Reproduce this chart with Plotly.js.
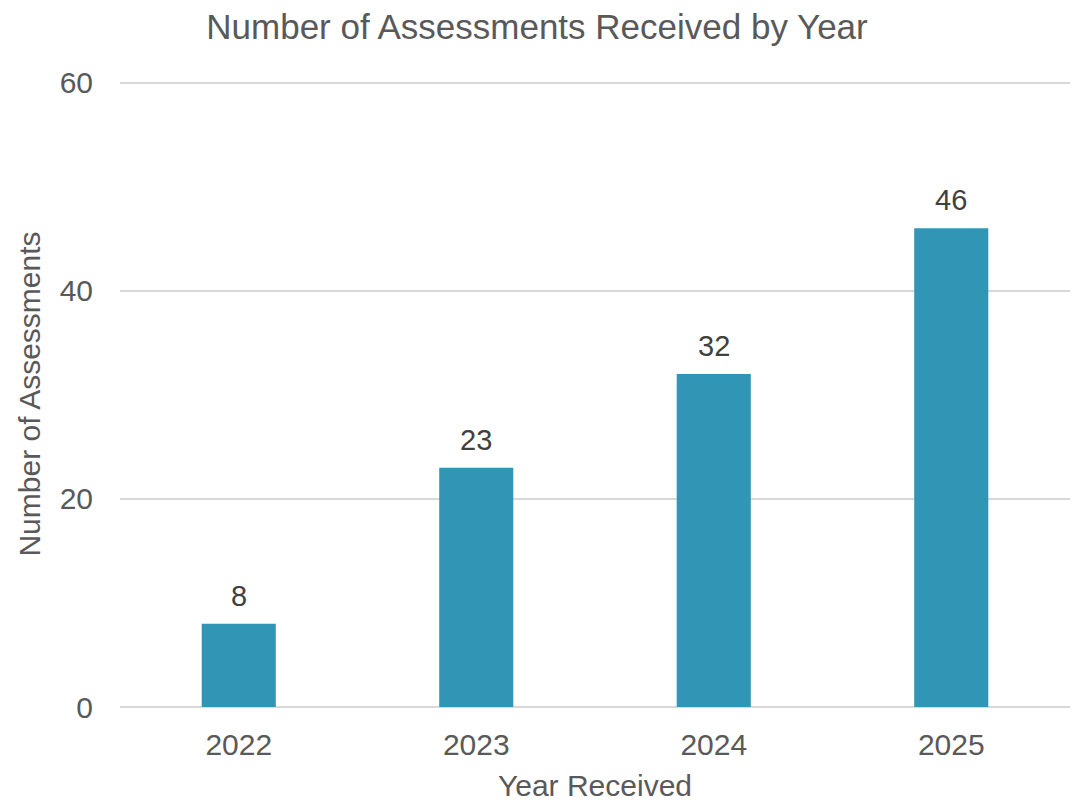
<!DOCTYPE html>
<html><head><meta charset="utf-8">
<script src="https://cdn.plot.ly/plotly-3.0.1.min.js"></script>
<style>html,body{margin:0;padding:0;background:#fff}</style>
</head><body>
<div id="chart" style="width:1074px;height:805px"></div>
<script>
const years = ["2022", "2023", "2024", "2025"];
const counts = [8, 23, 32, 46];
const yTicks = [0, 20, 40, 60];

const txt = '#595959';
const fam = 'Liberation Sans, Arial, sans-serif';
Plotly.newPlot('chart', [{
  type: 'bar', x: years, y: counts,
  marker: {color: '#3196B5'},
  hoverinfo: 'none'
}], {
  width: 1074, height: 805,
  margin: {l: 120, r: 4, t: 81, b: 98},
  paper_bgcolor: '#fff', plot_bgcolor: '#fff',
  bargap: 0.688,
  showlegend: false,
  title: {text: 'Number of Assessments Received by Year', x: 0.5, xanchor: 'center', y: 0.967, yanchor: 'middle',
    font: {family: fam, size: 35, color: txt}},
  annotations: years.map((yr, i) => ({
    x: i, y: counts[i], xref: 'x', yref: 'y', text: String(counts[i]),
    showarrow: false, yanchor: 'bottom', yshift: 10,
    font: {family: fam, size: 29, color: '#404040'}
  })),
  xaxis: {type: 'category', range: [-0.5, years.length - 0.5], autorange: false,
    showgrid: false, zeroline: false, showline: false, ticks: '',
    ticklabelstandoff: 17,
    tickfont: {family: fam, size: 30, color: txt},
    title: {text: 'Year Received', standoff: 14, font: {family: fam, size: 30, color: txt}}},
  yaxis: {range: [0, 60.15], tickvals: yTicks, showgrid: true, gridcolor: '#D9D9D9', gridwidth: 2,
    zeroline: true, zerolinecolor: '#D9D9D9', zerolinewidth: 2, showline: false, ticks: '',
    ticklabelstandoff: 26,
    tickfont: {family: fam, size: 30, color: txt},
    title: {text: 'Number of Assessments', standoff: 10, font: {family: fam, size: 30, color: txt}}}
}, {displayModeBar: false, staticPlot: true});
</script>
</body></html>
